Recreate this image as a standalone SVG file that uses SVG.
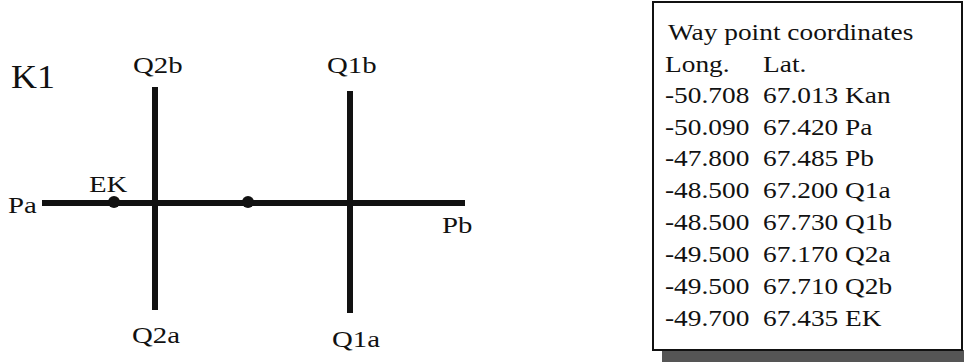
<svg xmlns="http://www.w3.org/2000/svg" width="964" height="362" viewBox="0 0 964 362">
<style>
text{font-family:"Liberation Serif","Times New Roman",serif;fill:#111}
.lbl{font-size:24px}
.tbl{font-size:23px}
.line{stroke:#111;stroke-width:6;stroke-linecap:butt}
</style>
<rect width="964" height="362" fill="#fff"/>
<g id="connectors">
<line class="line" x1="42" y1="203" x2="465" y2="203"/>
<line class="line" x1="155" y1="87" x2="155" y2="310"/>
<line class="line" x1="350" y1="91" x2="350" y2="313"/>
</g>
<g id="K1"><text x="11" y="88" style="font-size:34px" textLength="44" lengthAdjust="spacingAndGlyphs">K1</text></g>
<g id="Q2b"><text class="lbl" transform="translate(133,73) scale(1.2,1)">Q2b</text></g>
<g id="Q1b"><text class="lbl" transform="translate(327,73) scale(1.2,1)">Q1b</text></g>
<g id="Q2a"><text class="lbl" transform="translate(132,343) scale(1.2,1)">Q2a</text></g>
<g id="Q1a"><text class="lbl" transform="translate(332,347) scale(1.2,1)">Q1a</text></g>
<g id="Pa"><text class="lbl" transform="translate(8,213) scale(1.2,1)">Pa</text></g>
<g id="Pb"><text class="lbl" transform="translate(442,233) scale(1.2,1)">Pb</text></g>
<g id="EK"><circle cx="114" cy="202" r="6" fill="#111"/><text class="lbl" transform="translate(89,192) scale(1.2,1)">EK</text></g>
<g id="mid"><circle cx="248" cy="202" r="6" fill="#111"/></g>
<g id="table">
<rect x="662" y="350" width="302" height="12" fill="#555"/>
<rect x="653" y="2" width="309" height="348" fill="#fff" stroke="#111" stroke-width="2"/>
<g transform="translate(665,0) scale(1.19,1)">
<text class="tbl" x="2.5" y="40">Way point coordinates</text>
<text class="tbl" x="0" y="72">Long.</text><text class="tbl" x="82.4" y="72">Lat.</text>
<text class="tbl" x="0" y="103">-50.708</text><text class="tbl" x="82.4" y="103">67.013 Kan</text>
<text class="tbl" x="0" y="135">-50.090</text><text class="tbl" x="82.4" y="135">67.420 Pa</text>
<text class="tbl" x="0" y="166">-47.800</text><text class="tbl" x="82.4" y="166">67.485 Pb</text>
<text class="tbl" x="0" y="198">-48.500</text><text class="tbl" x="82.4" y="198">67.200 Q1a</text>
<text class="tbl" x="0" y="230">-48.500</text><text class="tbl" x="82.4" y="230">67.730 Q1b</text>
<text class="tbl" x="0" y="262">-49.500</text><text class="tbl" x="82.4" y="262">67.170 Q2a</text>
<text class="tbl" x="0" y="294">-49.500</text><text class="tbl" x="82.4" y="294">67.710 Q2b</text>
<text class="tbl" x="0" y="326">-49.700</text><text class="tbl" x="82.4" y="326">67.435 EK</text>
</g>
</g>
</svg>
